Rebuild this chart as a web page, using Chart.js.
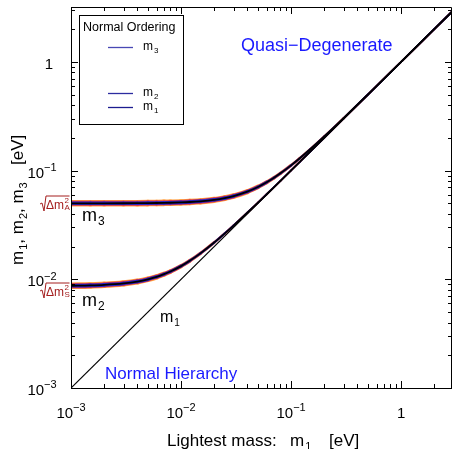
<!DOCTYPE html>
<html>
<head>
<meta charset="utf-8">
<script src="https://cdn.jsdelivr.net/npm/chart.js@4.4.1/dist/chart.umd.min.js"></script>
<style>
  body { margin: 0; background: #fff; }
  canvas { display: block; }
</style>
</head>
<body>
<canvas id="massChart" width="452" height="449"></canvas>
<script>
// lightest mass m1 [eV] and the two heavier masses
const lightestMass = [0.001, 0.0015, 0.002, 0.003, 0.004, 0.005, 0.006, 0.007, 0.008, 0.01, 0.012, 0.015, 0.02, 0.025, 0.03, 0.04, 0.05, 0.06, 0.07, 0.08, 0.1, 0.12, 0.15, 0.2, 0.3, 0.5, 1, 2, 2.9];
const m2Values = [0.00872, 0.00879, 0.00889, 0.00917, 0.00954, 0.0100, 0.01054, 0.01114, 0.01179, 0.01323, 0.0148, 0.01732, 0.02179, 0.02646, 0.03122, 0.04093, 0.05074, 0.06062, 0.07053, 0.08047, 0.10037, 0.12031, 0.15025, 0.20019, 0.30012, 0.50008, 1.0, 2.0, 2.9];
const m3Values = [0.05001, 0.05002, 0.05004, 0.05009, 0.05016, 0.05025, 0.05036, 0.05049, 0.05064, 0.05099, 0.05142, 0.0522, 0.05385, 0.0559, 0.05831, 0.06403, 0.07071, 0.0781, 0.08602, 0.09434, 0.1118, 0.13, 0.1581, 0.2062, 0.3041, 0.5025, 1.0012, 2.0006, 2.9004];
const m1Mass = [0.001, 2.9];
const m1Values = [0.001, 2.9];

const xTickValues = [0.001, 0.01, 0.1, 1];
const xTickLabels = [['10', '−3'], ['10', '−2'], ['10', '−1'], ['1', '']];
const yTickValues = [0.001, 0.01, 0.1, 1];
const yTickLabels = [['10', '−3'], ['10', '−2'], ['10', '−1'], ['1', '']];

const FONT = '"Liberation Sans", Arial, sans-serif';

// couches de la bande (du bord vers le centre)
const CORE = 1.8;
const bandLayers = [
    { color: '#ffa040', width: 6.6 },
    { color: '#d8304a', width: 5.0 },
    { color: '#2a24c8', width: 3.6 },
    { color: '#000000', width: CORE }
];

function points(xs, ys) {
    return xs.map((x, i) => ({ x: x, y: ys[i] }));
}

const datasets = [];
[m3Values, m2Values].forEach((vals, k) => {
    bandLayers.forEach((layer, i) => {
        datasets.push({
            label: 'band' + k + '_' + i,
            data: points(lightestMass, vals),
            borderColor: layer.color,
            borderWidth: layer.width,
            borderCapStyle: 'round',
            pointRadius: 0,
            cubicInterpolationMode: 'monotone',
            fill: false,
            order: 20 - i,
            segment: {
                // la bande s'amincit quand la masse augmente
                borderWidth: ctx => {
                    const j = ctx.p0DataIndex;
                    const r = Math.pow(vals[0] / vals[j], 2);
                    return CORE + (layer.width - CORE) * r;
                }
            }
        });
    });
});
datasets.push({
    label: 'm1',
    data: points(m1Mass, m1Values),
    borderColor: '#000',
    borderWidth: 1.2,
    pointRadius: 0,
    fill: false,
    order: 0
});

function drawPow(ctx, base, exp, x, y, size, align) {
    ctx.font = size + 'px ' + FONT;
    const wb = ctx.measureText(base).width;
    const es = Math.round(size * 0.72);
    ctx.font = es + 'px ' + FONT;
    const we = exp ? ctx.measureText(exp).width : 0;
    const total = wb + we;
    let x0 = x;
    if (align === 'center') x0 = x - total / 2;
    if (align === 'right') x0 = x - total;
    ctx.textAlign = 'left';
    ctx.textBaseline = 'alphabetic';
    ctx.font = size + 'px ' + FONT;
    ctx.fillText(base, x0, y);
    if (exp) {
        ctx.font = es + 'px ' + FONT;
        ctx.fillText(exp, x0 + wb, y - size * 0.45);
    }
}

function drawSub(ctx, base, sub, x, y, size) {
    ctx.textAlign = 'left';
    ctx.textBaseline = 'alphabetic';
    ctx.font = size + 'px ' + FONT;
    ctx.fillText(base, x, y);
    const w = ctx.measureText(base).width;
    ctx.font = Math.round(size * 0.65) + 'px ' + FONT;
    ctx.fillText(sub, x + w + 1, y + size * 0.22);
    return x + w + 1 + ctx.measureText(sub).width;
}

function drawSqrtLabel(ctx, idx, x, y) {
    ctx.save();
    ctx.fillStyle = '#a41e1e';
    ctx.strokeStyle = '#a41e1e';
    ctx.lineWidth = 1;
    ctx.font = '12px ' + FONT;
    ctx.textAlign = 'left';
    ctx.textBaseline = 'alphabetic';
    const tx = x + 6;
    ctx.fillText('Δm', tx, y);
    const w = ctx.measureText('Δm').width;
    ctx.font = '8px ' + FONT;
    ctx.fillText('2', tx + w + 0.5, y - 6);
    ctx.fillText(idx, tx + w + 0.5, y + 1);
    const end = tx + w + 5.5;
    // signe racine
    ctx.beginPath();
    ctx.moveTo(x, y - 5);
    ctx.lineTo(x + 2, y - 6);
    ctx.lineTo(x + 4, y + 2);
    ctx.lineTo(x + 6, y - 13);
    ctx.lineTo(end, y - 13);
    ctx.stroke();
    ctx.restore();
}

const decorPlugin = {
    id: 'decor',
    afterDraw(chart) {
        const ctx = chart.ctx;
        const xs = chart.scales.x, ys = chart.scales.y;
        const a = chart.chartArea;
        ctx.save();
        ctx.strokeStyle = '#000';
        ctx.fillStyle = '#000';
        ctx.lineWidth = 1;

        // cadre
        ctx.beginPath();
        ctx.moveTo(a.left + 0.5, a.bottom + 0.5);
        ctx.lineTo(a.left + 0.5, a.top + 0.5);
        ctx.lineTo(a.right - 0.5, a.top + 0.5);
        ctx.lineTo(a.right - 0.5, a.bottom + 0.5);
        ctx.closePath();
        ctx.stroke();

        // graduations vers l'intérieur
        ctx.beginPath();
        for (let d = -3; d <= 0; d++) {
            for (let k = 1; k <= 9; k++) {
                const v = k * Math.pow(10, d);
                const len = k === 1 ? 7 : 4;
                if (v <= xs.max) {
                    const px = Math.round(xs.getPixelForValue(v)) + 0.5;
                    ctx.moveTo(px, a.bottom); ctx.lineTo(px, a.bottom - len);
                    ctx.moveTo(px, a.top); ctx.lineTo(px, a.top + len);
                }
                if (v <= ys.max) {
                    const py = Math.round(ys.getPixelForValue(v)) + 0.5;
                    ctx.moveTo(a.left, py); ctx.lineTo(a.left + len, py);
                    ctx.moveTo(a.right, py); ctx.lineTo(a.right - len, py);
                }
            }
        }
        ctx.stroke();

        // étiquettes des axes
        xTickValues.forEach((v, i) => {
            drawPow(ctx, xTickLabels[i][0], xTickLabels[i][1], xs.getPixelForValue(v), 418, 15, 'center');
        });
        yTickValues.forEach((v, i) => {
            const py = ys.getPixelForValue(v);
            const cx = yTickLabels[i][1] ? 42 : 49;
            drawPow(ctx, yTickLabels[i][0], yTickLabels[i][1], cx, py + 7, 15, 'center');
        });

        // titre axe x
        ctx.font = '17px ' + FONT;
        ctx.textAlign = 'left';
        ctx.textBaseline = 'alphabetic';
        ctx.fillText('Lightest mass:', 167, 446);
        drawSub(ctx, 'm', '1', 290, 446, 17);
        ctx.font = '17px ' + FONT;
        ctx.fillText('[eV]', 329, 446);

        // titre axe y
        ctx.save();
        ctx.translate(23, 0);
        ctx.rotate(-Math.PI / 2);
        const parts = [['m', '1', ', '], ['m', '2', ', '], ['m', '3', '']];
        let cx = -265;
        parts.forEach(p => {
            cx = drawSub(ctx, p[0], p[1], cx, 0, 17);
            ctx.font = '17px ' + FONT;
            ctx.fillText(p[2], cx, 0);
            cx += ctx.measureText(p[2]).width;
        });
        ctx.font = '17px ' + FONT;
        ctx.fillText('[eV]', -165, 0);
        ctx.restore();

        // annotations
        ctx.fillStyle = '#1a1aff';
        ctx.font = '18px ' + FONT;
        ctx.fillText('Quasi−Degenerate', 241, 51);
        ctx.font = '17px ' + FONT;
        ctx.fillText('Normal Hierarchy', 105, 379);

        ctx.fillStyle = '#000';
        drawSub(ctx, 'm', '3', 82, 221, 18);
        drawSub(ctx, 'm', '2', 82, 306, 18);
        drawSub(ctx, 'm', '1', 160, 322, 16);

        drawSqrtLabel(ctx, 'A', 40, 209);
        drawSqrtLabel(ctx, 'S', 40, 296);

        // légende
        ctx.fillStyle = '#fff';
        ctx.fillRect(79.5, 15.5, 104, 109);
        ctx.strokeStyle = '#000';
        ctx.lineWidth = 1;
        ctx.strokeRect(79.5, 15.5, 104, 109);
        ctx.fillStyle = '#000';
        ctx.font = '12.5px ' + FONT;
        ctx.fillText('Normal Ordering', 83, 31);
        const legendRows = [['3', 47, '#4848b4'], ['2', 93, '#2c2ca0'], ['1', 107, '#1c1c90']];
        legendRows.forEach(r => {
            ctx.strokeStyle = r[2];
            ctx.lineWidth = 1.3;
            ctx.beginPath();
            ctx.moveTo(108, r[1] + 0.5);
            ctx.lineTo(133, r[1] + 0.5);
            ctx.stroke();
            ctx.fillStyle = '#000';
            drawSub(ctx, 'm', r[0], 143, r[1] + 3, 12);
        });
        ctx.restore();
    }
};

new Chart(document.getElementById('massChart'), {
    type: 'line',
    data: { datasets: datasets },
    options: {
        responsive: false,
        animation: false,
        devicePixelRatio: 1,
        layout: { padding: { left: 71, right: 0, top: 7, bottom: 61 } },
        plugins: {
            legend: { display: false },
            tooltip: { enabled: false }
        },
        scales: {
            x: {
                type: 'logarithmic',
                min: 0.001,
                max: 2.9,
                grid: { display: false },
                border: { display: false },
                ticks: { display: false },
                afterFit: s => { s.height = 0; }
            },
            y: {
                type: 'logarithmic',
                min: 0.001,
                max: 3.2,
                grid: { display: false },
                border: { display: false },
                ticks: { display: false },
                afterFit: s => { s.width = 0; }
            }
        }
    },
    plugins: [decorPlugin]
});
</script>
</body>
</html>
